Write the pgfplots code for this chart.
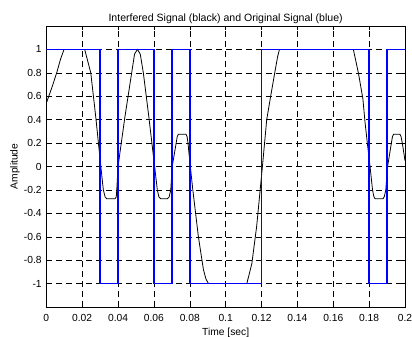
\documentclass[border=0pt]{standalone}
\usepackage{fontspec}
\setmainfont{Liberation Sans}
\usepackage{pgfplots}
\pgfplotsset{compat=1.18}
\definecolor{sigblue}{rgb}{0,0,1}

\begin{document}
\fontsize{10.3}{12.4}\selectfont
\begin{tikzpicture}
\useasboundingbox (-46.3bp,-30bp) rectangle (365.7bp,307bp);
\begin{axis}[
  at={(0,0)}, anchor=south west,
  scale only axis, width=358.7bp, height=281bp,
  xmin=0, xmax=0.2, ymin=-1.2, ymax=1.2,
  xtick={0,0.02,0.04,0.06,0.08,0.1,0.12,0.14,0.16,0.18,0.2},
  xticklabels={0,0.02,0.04,0.06,0.08,0.1,0.12,0.14,0.16,0.18,0.2},
  ytick={-1,-0.8,-0.6,-0.4,-0.2,0,0.2,0.4,0.6,0.8,1},
  yticklabels={-1,-0.8,-0.6,-0.4,-0.2,0,0.2,0.4,0.6,0.8,1},
  tick align=inside, tick pos=both,
  major tick length=4bp,
  tick style={black, line width=0.5bp},
  axis line style={black, line width=0.8bp},
  axis on top=false,
  grid=major,
  major grid style={black, line width=0.5bp, dash pattern=on 6bp off 4bp},
  xticklabel style={yshift=-4bp},
  yticklabel style={xshift=-1bp},
  title={Interfered Signal (black) and Original Signal (blue)},
  title style={at={(axis description cs:0.5,1.006)}, anchor=center,
               font=\fontsize{10.6}{12.7}\selectfont},
  xlabel={Time [sec]},
  xlabel style={at={(axis description cs:0.5,-0.093)}, anchor=center},
  ylabel={Amplitude},
  ylabel style={at={(axis description cs:-0.087,0.5)}, anchor=center},
]
% filtered signal
\addplot[black, line width=0.8bp] coordinates {
(0,0.54) (0.0030,0.67) (0.0058,0.80) (0.0080,0.92) (0.0099,1.00)
(0.0214,1.00) (0.0248,0.80) (0.0276,0.42) (0.0304,0.00) (0.0318,-0.20)
(0.0328,-0.26) (0.0337,-0.275) (0.0383,-0.275) (0.0390,-0.26) (0.0393,-0.20)
(0.0400,0.00) (0.0438,0.42) (0.0476,0.80) (0.0492,0.96) (0.0508,1.00)
(0.0524,0.96) (0.0541,0.80) (0.0572,0.42) (0.0604,0.00) (0.0619,-0.20)
(0.0628,-0.26) (0.0638,-0.275) (0.0675,-0.275) (0.0685,-0.26) (0.0694,-0.20)
(0.0702,0.00) (0.0724,0.20) (0.0730,0.255) (0.0736,0.275) (0.0779,0.275)
(0.0785,0.255) (0.0790,0.20) (0.0803,0.00) (0.0817,-0.20) (0.0848,-0.60)
(0.0876,-0.88) (0.0890,-0.96) (0.0904,-1.00) (0.1118,-1.00) (0.1146,-0.83)
(0.1173,-0.51) (0.1205,0.00) (0.1229,0.40) (0.1251,0.60) (0.1276,0.82)
(0.1290,0.94) (0.1300,1.00) (0.1712,1.00) (0.1740,0.80) (0.1765,0.58)
(0.1777,0.38) (0.1790,0.20) (0.1805,0.00) (0.1819,-0.20) (0.1826,-0.255)
(0.1833,-0.275) (0.1878,-0.275) (0.1885,-0.255) (0.1893,-0.20) (0.1903,0.00)
(0.1924,0.20) (0.1930,0.255) (0.1936,0.275) (0.1972,0.275) (0.1978,0.255)
(0.1985,0.20) (0.2000,0.05)
};
% original binary signal, one bit every 10 ms
\addplot[draw=sigblue, line width=1.6bp, const plot mark left] coordinates {
(0,1) (0.03,-1) (0.04,1) (0.06,-1) (0.07,1) (0.08,-1) (0.12,1) (0.18,-1) (0.19,1) (0.2,1)
};
\end{axis}
\end{tikzpicture}
\end{document}
